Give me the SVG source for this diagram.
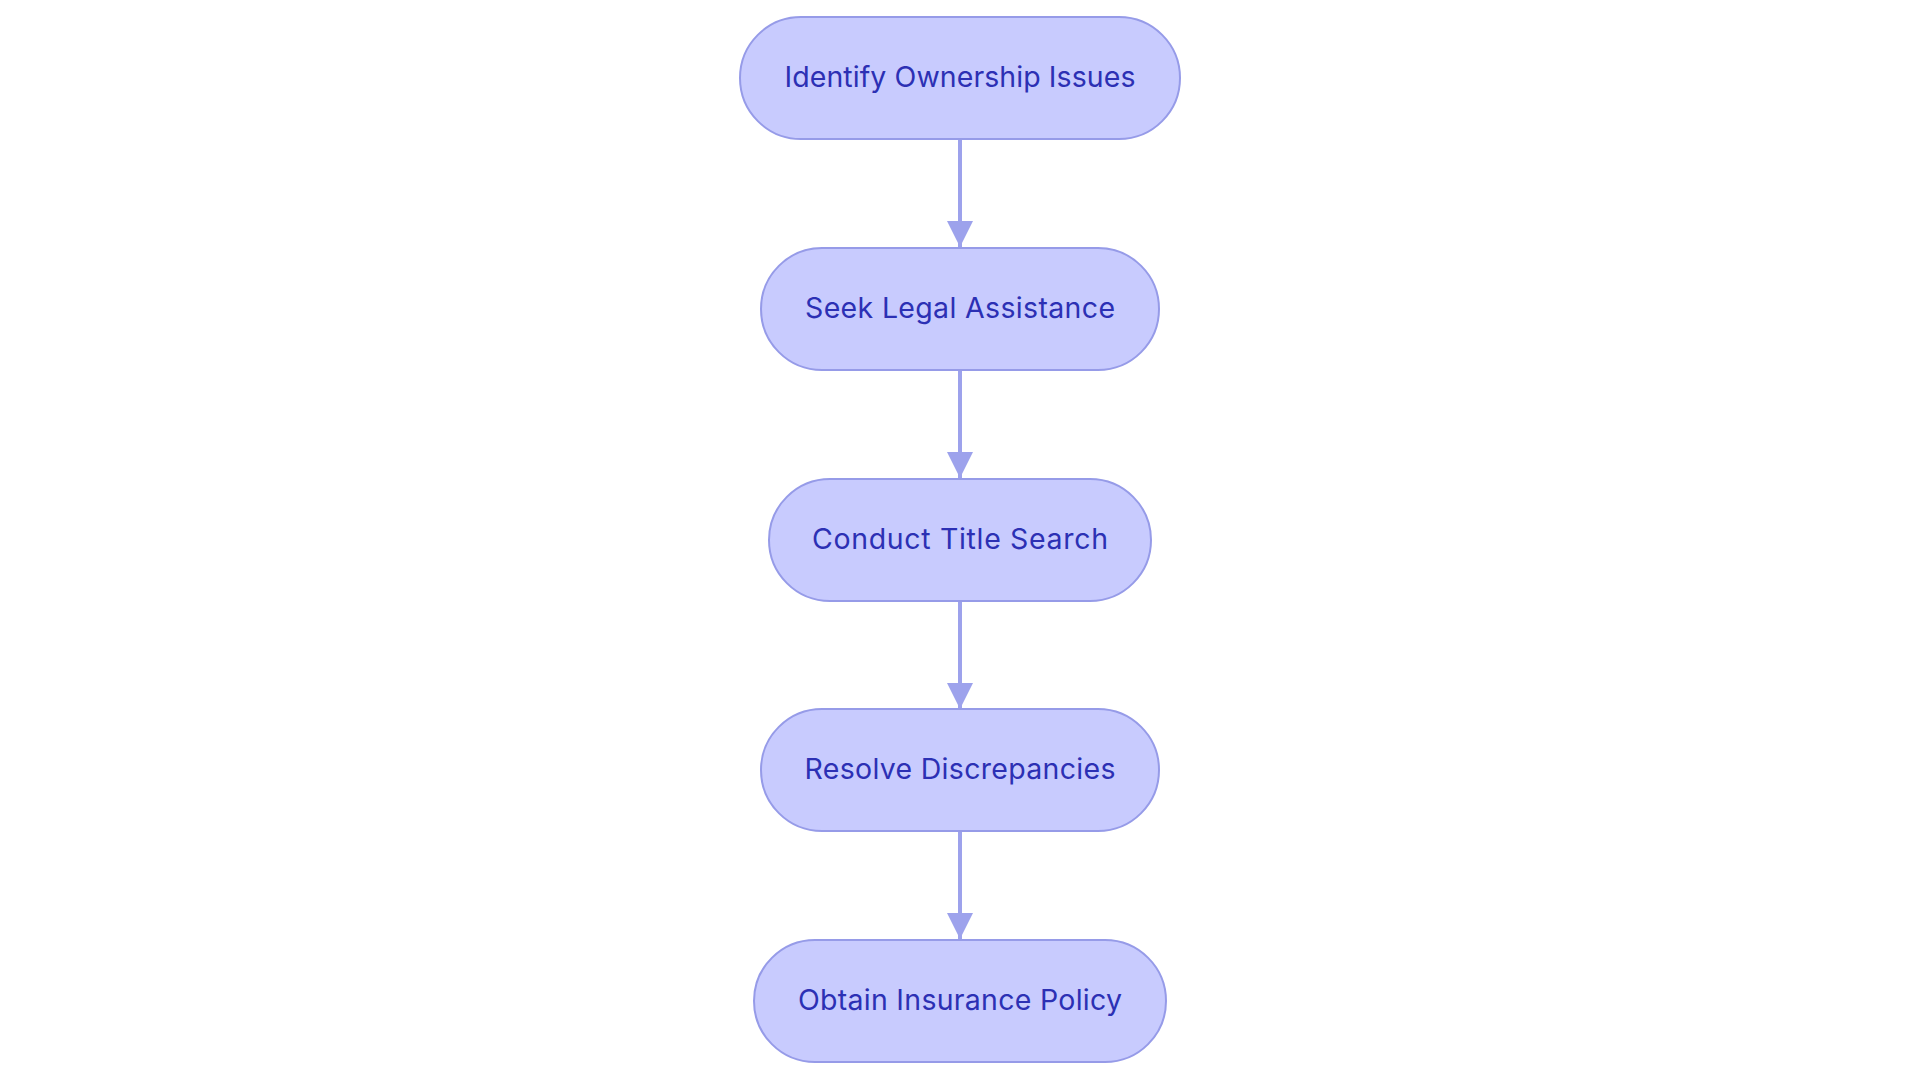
<svg xmlns="http://www.w3.org/2000/svg" width="1920" height="1083" viewBox="0 0 1920 1083">
<style>
.node rect{fill:#C8CBFE;stroke:#969BE8;stroke-width:2}
.node text{font-family:Inter,"Noto Sans","Liberation Sans",sans-serif;font-size:28.5px;fill:#2C30B4;text-anchor:middle}
.edge{stroke:#9DA2EC;stroke-width:4;fill:none}
</style>
<defs>
<marker id="arr" markerUnits="userSpaceOnUse" markerWidth="28" markerHeight="28" refX="26" refY="13" orient="auto">
<path d="M0,0 L26,13 L0,26 Z" fill="#9DA2EC"/>
</marker>
</defs>
<rect width="1920" height="1083" fill="#FFFFFF"/>
<g id="connectors">
<line class="edge" x1="960" y1="139" x2="960" y2="247" marker-end="url(#arr)"/>
<line class="edge" x1="960" y1="370" x2="960" y2="478" marker-end="url(#arr)"/>
<line class="edge" x1="960" y1="601" x2="960" y2="709" marker-end="url(#arr)"/>
<line class="edge" x1="960" y1="831" x2="960" y2="939" marker-end="url(#arr)"/>
</g>
<g id="node1" class="node">
<rect x="740" y="17" width="440" height="122" rx="61" ry="61"/>
<text x="960" y="87" textLength="351" lengthAdjust="spacing">Identify Ownership Issues</text>
</g>
<g id="node2" class="node">
<rect x="761" y="248" width="398" height="122" rx="61" ry="61"/>
<text x="960" y="318" textLength="310" lengthAdjust="spacing">Seek Legal Assistance</text>
</g>
<g id="node3" class="node">
<rect x="769" y="479" width="382" height="122" rx="61" ry="61"/>
<text x="960" y="549" textLength="296" lengthAdjust="spacing">Conduct Title Search</text>
</g>
<g id="node4" class="node">
<rect x="761" y="709" width="398" height="122" rx="61" ry="61"/>
<text x="960" y="779" textLength="311" lengthAdjust="spacing">Resolve Discrepancies</text>
</g>
<g id="node5" class="node">
<rect x="754" y="940" width="412" height="122" rx="61" ry="61"/>
<text x="960" y="1010" textLength="324" lengthAdjust="spacing">Obtain Insurance Policy</text>
</g>
</svg>
